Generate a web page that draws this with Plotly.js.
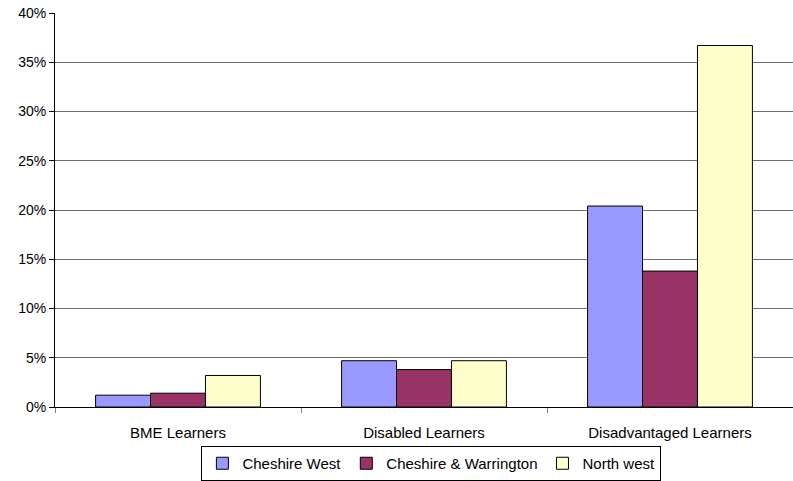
<!DOCTYPE html>
<html>
<head>
<meta charset="utf-8">
<script src="https://cdn.plot.ly/plotly-3.0.1.min.js"></script>
<style>html,body{margin:0;padding:0;background:#fff;}#chart{width:793px;height:481px;}</style>
</head>
<body>
<div id="chart"></div>
<script>
const categories = ["BME Learners", "Disabled Learners", "Disadvantaged Learners"];
const cheshireWest = [0.012, 0.047, 0.204];
const cheshireWarrington = [0.014, 0.038, 0.138];
const northWest = [0.032, 0.047, 0.367];
const seriesNames = ["Cheshire West", "Cheshire & Warrington", "North west"];
const seriesColors = ["#9999ff", "#993366", "#ffffcc"];
const yTickVals = [0, 0.05, 0.1, 0.15, 0.2, 0.25, 0.3, 0.35, 0.4];
const yTickText = ["0%", "5%", "10%", "15%", "20%", "25%", "30%", "35%", "40%"];

const seriesValues = [cheshireWest, cheshireWarrington, northWest];
const traces = seriesValues.map((vals, i) => ({
  type: "bar",
  x: categories,
  y: vals,
  name: seriesNames[i],
  marker: {color: seriesColors[i], line: {color: "#000", width: 1}},
  hoverinfo: "none"
}));

const layout = {
  width: 793, height: 481,
  margin: {l: 55, r: 0, t: 13, b: 73},
  paper_bgcolor: "#fff", plot_bgcolor: "#fff",
  font: {family: "Liberation Sans, Arial, sans-serif", color: "#000", size: 14},
  barmode: "group",
  bargap: 0.33,
  bargroupgap: 0,
  showlegend: true,
  legend: {
    orientation: "h",
    x: 0.51, xanchor: "center",
    y: -0.187, yanchor: "bottom",
    bordercolor: "#000", borderwidth: 1,
    font: {size: 15, color: "#000"},
    itemwidth: 30,
    tracegroupgap: 0
  },
  xaxis: {
    type: "category",
    showline: true, linecolor: "#000", linewidth: 1,
    ticks: "outside", ticklen: 5, tickcolor: "#808080",
    tickson: "boundaries",
    ticklabelstandoff: 12,
    tickfont: {size: 15, color: "#000"},
    showgrid: false, zeroline: false,
    automargin: false
  },
  yaxis: {
    range: [0, 0.4],
    tickvals: yTickVals, ticktext: yTickText,
    showline: true, linecolor: "#000", linewidth: 1,
    ticks: "outside", ticklen: 5, tickcolor: "#000",
    tickfont: {size: 14, color: "#000"},
    showgrid: true, gridcolor: "#6e6e6e", gridwidth: 1,
    zeroline: false,
    automargin: false
  }
};

Plotly.newPlot("chart", traces, layout, {staticPlot: true});
</script>
</body>
</html>
